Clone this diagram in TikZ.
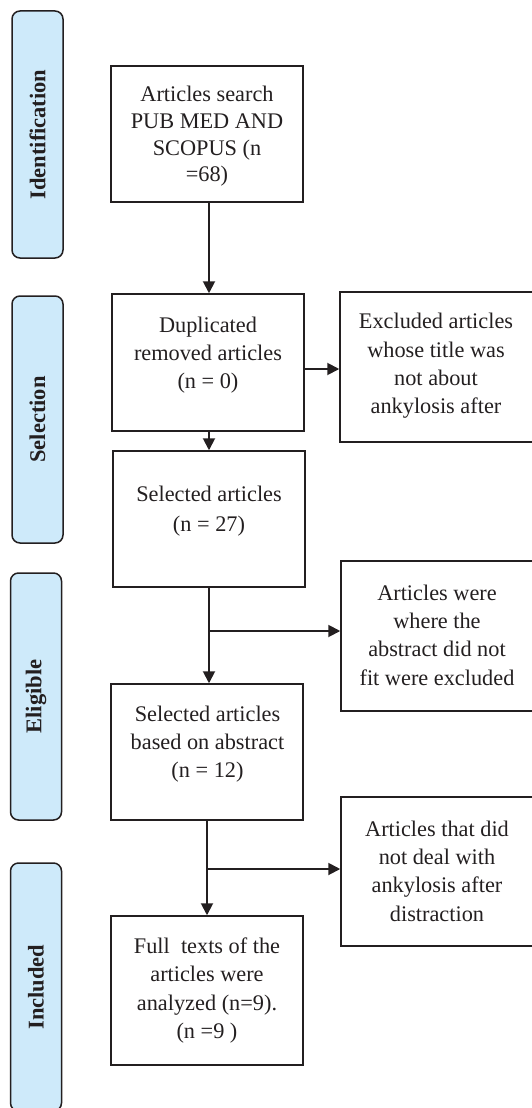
\documentclass[tikz,border=0pt]{standalone}
\usepackage{fontspec}
\setmainfont{Liberation Serif}
\usetikzlibrary{arrows.meta,calc}
\definecolor{lblue}{RGB}{206,234,250}
\definecolor{ink}{RGB}{35,31,32}
\begin{document}
\begin{tikzpicture}[x=1pt,y=-1pt,
  stagebox/.style={draw=ink,line width=1.5pt,fill=lblue,rounded corners=8pt,rotate=90,
    minimum height=51pt,inner sep=0pt,font=\fontsize{22.5}{26}\selectfont\bfseries,text=ink},
  flowbox/.style={draw=ink,line width=1.5pt,inner sep=0pt},
  flowtext/.style={align=center,text=ink,inner sep=0pt,font=\fontsize{22.3}{28.3}\selectfont},
  conn/.style={draw=ink,line width=1.9pt,-{Triangle[length=12pt,width=12pt]}},
  plain/.style={draw=ink,line width=1.9pt}]
\useasboundingbox (0,0) rectangle (532,1108);
\clip (0,0) rectangle (532,1108);
% stage labels
\node[stagebox,minimum width=247pt] (s1) at (37.5,134.5) {Identification};
\node[stagebox,minimum width=247pt] (s2) at (37.5,419.5) {Selection};
\node[stagebox,minimum width=247pt] (s3) at (36,696.5) {Eligible};
\node[stagebox,minimum width=248pt] (s4) at (36,987) {Included};
% main boxes
\node[flowbox,minimum width=192pt,minimum height=136pt] (a) at (207,134) {};
\node[flowbox,minimum width=192pt,minimum height=137pt] (b) at (208,362.5) {};
\node[flowbox,minimum width=192pt,minimum height=136pt] (d) at (209,519) {};
\node[flowbox,minimum width=192pt,minimum height=136pt] (f) at (207,752) {};
\node[flowbox,minimum width=192pt,minimum height=149pt] (h) at (207,990.5) {};
% side boxes
\node[flowbox,minimum width=194pt,minimum height=150pt] (c) at (437,367) {};
\node[flowbox,minimum width=194pt,minimum height=150pt] (e) at (438,636) {};
\node[flowbox,minimum width=194pt,minimum height=149pt] (g) at (438,871.5) {};
% texts
\node[flowtext,font=\fontsize{22.3}{26.6}\selectfont] (ta) at (207,136.5) {Articles search\\PUB MED AND\\SCOPUS (n\\=68)};
\node[flowtext] (tb) at (208,355) {Duplicated\\removed articles\\(n = 0)};
\node[flowtext,font=\fontsize{22.3}{30.5}\selectfont] (td) at (209,511) {Selected articles\\(n = 27)};
\node[flowtext] (tf) at (207.5,744) {Selected articles\\based on abstract\\(n = 12)};
\node[flowtext] (th) at (207,990.5) {Full\ \ texts of the\\articles were\\analyzed (n=9).\\(n =9 )};
\node[flowtext] (tc) at (436,366) {Excluded articles\\whose title was\\not about\\ankylosis after};
\node[flowtext] (te) at (437,635) {Articles were\\where the\\abstract did not\\fit were excluded};
\node[flowtext] (tg) at (437,871) {Articles that did\\not deal with\\ankylosis after\\distraction};
% connectors
\coordinate (p1) at ($(a.south)+(2,0)$);
\coordinate (p2) at ($(b.east)+(0,6.5)$);
\coordinate (p3) at ($(b.south)+(1,0)$);
\coordinate (j1) at (209,631);
\coordinate (j2) at (207,869);
\draw[conn] (p1) -- (p1 |- b.north);
\draw[conn] (p2) -- (p2 -| c.west);
\draw[conn] (p3) -- (p3 |- d.north);
\draw[plain] (d.south) -- (j1);
\draw[conn] (j1) -- (d.south |- f.north);
\draw[conn] (j1) -- (j1 -| e.west);
\draw[plain] (f.south) -- (j2);
\draw[conn] (j2) -- (f.south |- h.north);
\draw[conn] (j2) -- (j2 -| g.west);
\end{tikzpicture}
\end{document}
